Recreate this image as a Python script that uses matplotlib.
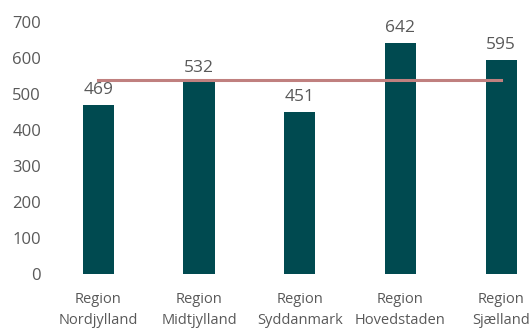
import matplotlib
matplotlib.use("Agg")
import matplotlib.pyplot as plt

categories = ["Region\nNordjylland", "Region\nMidtjylland", "Region\nSyddanmark", "Region\nHovedstaden", "Region\nSjælland"]
values = [469, 532, 451, 642, 595]
average = sum(values) / len(values)
yticks = [0, 100, 200, 300, 400, 500, 600, 700]

plt.rcParams['font.family'] = ['Open Sans', 'DejaVu Sans']
W, H = 529, 329
fig = plt.figure(figsize=(W / 100, H / 100), dpi=100)
left_px, right_px, bottom_px, top_px = 48, 529, 274, 22
ax = fig.add_axes([left_px / W, (H - bottom_px) / H, (right_px - left_px) / W, (bottom_px - top_px) / H])

x = list(range(len(categories)))
ax.bar(x, values, width=0.31, color="#004A50", zorder=2)
ax.plot([x[0], x[-1]], [average, average], color="#C0807F", linewidth=2.2, zorder=3)

for xi, v in zip(x, values):
    ax.annotate(f"{v}", (xi, v), xytext=(0, 5), textcoords="offset points",
                ha="center", va="bottom", fontsize=12.5, color="#595959")

ax.set_xlim(-0.5, -0.5 + (right_px - left_px) / 100.7)
ax.set_ylim(0, 700)
ax.set_yticks(yticks)
ax.set_yticklabels([str(t) for t in yticks], fontsize=12, color="#595959")
ax.set_xticks(x)
ax.set_xticklabels(categories, fontsize=10.5, color="#595959", linespacing=1.5)
ax.tick_params(axis="both", length=0)
ax.tick_params(axis="y", pad=5)
ax.tick_params(axis="x", pad=13)
for s in ax.spines.values():
    s.set_visible(False)

fig.savefig("out.png", dpi=100)
